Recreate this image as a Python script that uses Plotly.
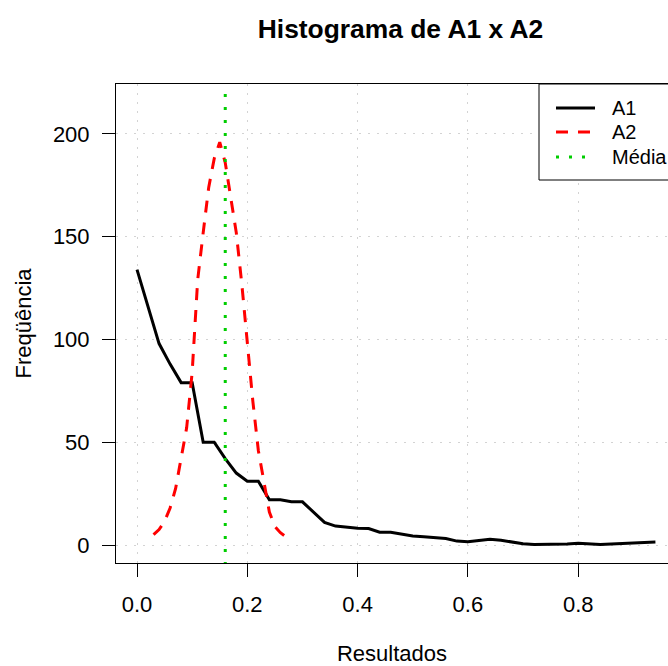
import plotly.graph_objects as go

# ---- data ----
a1_x = [0.00, 0.02, 0.04, 0.06, 0.08, 0.10, 0.12, 0.14, 0.16, 0.18, 0.20, 0.22,
        0.24, 0.26, 0.28, 0.30, 0.32, 0.34, 0.36, 0.38, 0.40, 0.42, 0.44, 0.46,
        0.48, 0.50, 0.52, 0.54, 0.56, 0.58, 0.60, 0.62, 0.64, 0.66, 0.68, 0.70,
        0.72, 0.74, 0.76, 0.78, 0.80, 0.82, 0.84, 0.86, 0.88, 0.90, 0.92, 0.94]
a1_y = [134, 116, 98, 88, 79, 79, 50, 50, 42, 35, 31, 31,
        22, 22, 21, 21, 16, 11, 9.2, 8.6, 8.1, 8, 6.2, 6.2,
        5.2, 4.4, 4, 3.6, 3.2, 1.9, 1.6, 2.2, 2.8, 2.3, 1.5, 0.6,
        0.3, 0.3, 0.3, 0.5, 0.8, 0.5, 0.3, 0.5, 0.8, 1.2, 1.5, 1.5]

a2_x = [0.03, 0.04, 0.05, 0.06, 0.07, 0.08, 0.09, 0.10, 0.11, 0.12, 0.13, 0.14,
        0.15, 0.16, 0.17, 0.18, 0.19, 0.20, 0.21, 0.22, 0.23, 0.24, 0.25, 0.26,
        0.27, 0.28]
a2_y = [5, 7.5, 11.5, 18, 27.5, 41.5, 57, 84, 129, 152, 174, 188,
        196, 186, 169, 152, 127, 98, 70, 46, 31, 16, 9, 6,
        4, 2.3]

media = 0.16

x_ticks = [0.0, 0.2, 0.4, 0.6, 0.8]
x_tick_labels = ["0.0", "0.2", "0.4", "0.6", "0.8"]
y_ticks = [0, 50, 100, 150, 200]
y_tick_labels = ["0", "50", "100", "150", "200"]

legend_labels = ["A1", "A2", "Média"]

# ---- figure ----
FONT = "Liberation Sans, Arial, Helvetica, sans-serif"
AX_FS = 22
W, H = 668, 666
L, R, T, B = 116, 0, 84, 103
PW, PH = W - L - R, H - T - B

X_RANGE = [-0.0381, 0.9628]
Y_RANGE = [-8.76, 224.3]


def px_x(p):
    return (p - L) / PW


def px_y(p):
    return (H - B - p) / PH


fig = go.Figure()
fig.add_trace(go.Scatter(x=a1_x, y=a1_y, mode="lines", name=legend_labels[0],
                         line=dict(color="black", width=3), showlegend=False))
fig.add_trace(go.Scatter(x=a2_x, y=a2_y, mode="lines", name=legend_labels[1],
                         line=dict(color="#FF0000", width=3, dash="12px,10px"),
                         showlegend=False))
fig.add_trace(go.Scatter(x=[media, media], y=[Y_RANGE[0] - 20, Y_RANGE[1] + 20],
                         mode="lines", name=legend_labels[2],
                         line=dict(color="#00CD00", width=3, dash="3px,10px"),
                         showlegend=False))

# manual legend (R style, top-right, clipped by the window edge)
shapes = [dict(type="rect", xref="paper", yref="paper",
               x0=px_x(539), x1=px_x(700), y0=px_y(180), y1=px_y(84),
               line=dict(color="black", width=1), fillcolor="white", layer="above")]
leg_styles = [dict(color="black", width=3),
              dict(color="#FF0000", width=3, dash="12px,10px"),
              dict(color="#00CD00", width=3, dash="3px,10px")]
leg_y = [108, 132, 157]
annotations = []
for lab, st, yy in zip(legend_labels, leg_styles, leg_y):
    shapes.append(dict(type="line", xref="paper", yref="paper",
                       x0=px_x(556), x1=px_x(595), y0=px_y(yy), y1=px_y(yy),
                       line=st, layer="above"))
    annotations.append(dict(text=lab, xref="paper", yref="paper",
                            x=px_x(610), y=px_y(yy), xanchor="left", yanchor="middle",
                            showarrow=False, font=dict(family=FONT, size=20, color="black")))

fig.update_layout(
    width=W, height=H,
    margin=dict(l=L, r=R, t=T, b=B, pad=0),
    paper_bgcolor="white", plot_bgcolor="white",
    font=dict(family=FONT, size=AX_FS, color="black"),
    showlegend=False,
    title=dict(text="Histograma de A1 x A2", x=px_x(400.5), xref="paper", xanchor="center",
               y=1 - 28.5 / H, yref="container", yanchor="middle",
               font=dict(family=FONT, size=26.4, color="black", weight="bold")),
    shapes=shapes,
    annotations=annotations,
)
fig.update_xaxes(range=X_RANGE, tickvals=x_ticks, ticktext=x_tick_labels,
                 ticks="outside", ticklen=13, tickwidth=1, tickcolor="black",
                 showline=True, linecolor="black", linewidth=1, mirror=True,
                 showgrid=True, gridcolor="#D3D3D3", gridwidth=1, griddash="2px,7px",
                 zeroline=False, tickfont=dict(family=FONT, size=AX_FS, color="black"),
                 ticklabelstandoff=9,
                 title=dict(text="Resultados", standoff=37,
                            font=dict(family=FONT, size=AX_FS, color="black")),
                 automargin=False)
fig.update_yaxes(range=Y_RANGE, tickvals=y_ticks, ticktext=y_tick_labels,
                 ticks="outside", ticklen=13, tickwidth=1, tickcolor="black",
                 showline=True, linecolor="black", linewidth=1, mirror=False,
                 showgrid=True, gridcolor="#D3D3D3", gridwidth=1, griddash="2px,7px",
                 zeroline=False, tickfont=dict(family=FONT, size=AX_FS, color="black"),
                 ticklabelstandoff=8,
                 title=dict(text="Freqüência", standoff=15,
                            font=dict(family=FONT, size=AX_FS, color="black")),
                 automargin=False)

fig.write_html("out.html")
